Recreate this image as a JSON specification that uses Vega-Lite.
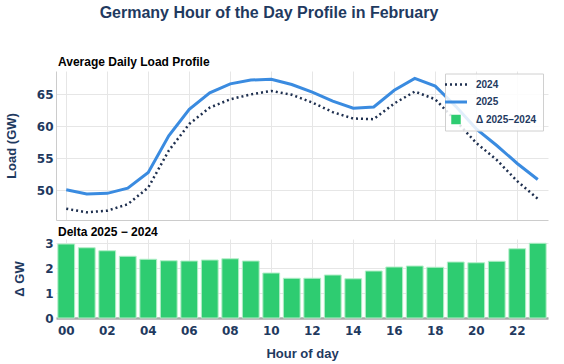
{
  "$schema": "https://vega.github.io/schema/vega-lite/v6.json",
  "background": "white",
  "padding": {"left": 5, "top": 5, "right": 5, "bottom": 2},
  "title": {
    "text": "Germany Hour of the Day Profile in February",
    "font": "Liberation Sans", "fontSize": 16, "fontWeight": "bold", "color": "#1f3a5f",
    "anchor": "middle", "offset": 35, "dx": -33
  },
  "config": {
    "view": {"stroke": null},
    "axis": {
      "labelFont": "DejaVu Sans", "labelFontWeight": "bold", "labelFontSize": 12, "labelColor": "#1f3a5f",
      "titleFont": "Liberation Sans", "titleFontWeight": "bold", "titleFontSize": 13, "titleColor": "#1f3a5f",
      "gridColor": "#e6e6e6", "gridWidth": 1, "ticks": false
    },
    "title": {"font": "Liberation Sans", "fontWeight": "bold", "fontSize": 12, "color": "#000000", "anchor": "start", "frame": "group", "dx": 2}
  },
  "data": {
    "values": [
      {"hour": "00", "y2024": 47.15, "y2025": 50.1, "delta": 2.96},
      {"hour": "01", "y2024": 46.6, "y2025": 49.45, "delta": 2.81},
      {"hour": "02", "y2024": 46.85, "y2025": 49.55, "delta": 2.69},
      {"hour": "03", "y2024": 47.85, "y2025": 50.35, "delta": 2.47},
      {"hour": "04", "y2024": 50.45, "y2025": 52.8, "delta": 2.35},
      {"hour": "05", "y2024": 56.2, "y2025": 58.5, "delta": 2.29},
      {"hour": "06", "y2024": 60.35, "y2025": 62.65, "delta": 2.28},
      {"hour": "07", "y2024": 62.9, "y2025": 65.2, "delta": 2.32},
      {"hour": "08", "y2024": 64.2, "y2025": 66.6, "delta": 2.37},
      {"hour": "09", "y2024": 64.95, "y2025": 67.2, "delta": 2.28},
      {"hour": "10", "y2024": 65.5, "y2025": 67.3, "delta": 1.8},
      {"hour": "11", "y2024": 64.9, "y2025": 66.5, "delta": 1.59},
      {"hour": "12", "y2024": 63.7, "y2025": 65.3, "delta": 1.59},
      {"hour": "13", "y2024": 62.2, "y2025": 63.9, "delta": 1.72},
      {"hour": "14", "y2024": 61.2, "y2025": 62.8, "delta": 1.57},
      {"hour": "15", "y2024": 61.1, "y2025": 63.0, "delta": 1.88},
      {"hour": "16", "y2024": 63.55, "y2025": 65.6, "delta": 2.04},
      {"hour": "17", "y2024": 65.4, "y2025": 67.45, "delta": 2.08},
      {"hour": "18", "y2024": 64.2, "y2025": 66.25, "delta": 2.03},
      {"hour": "19", "y2024": 60.85, "y2025": 63.1, "delta": 2.24},
      {"hour": "20", "y2024": 57.4, "y2025": 59.6, "delta": 2.21},
      {"hour": "21", "y2024": 54.75, "y2025": 57.0, "delta": 2.27},
      {"hour": "22", "y2024": 51.45, "y2025": 54.2, "delta": 2.77},
      {"hour": "23", "y2024": 48.7, "y2025": 51.7, "delta": 2.99}
    ]
  },
  "spacing": 6,
  "vconcat": [
    {
      "width": 492,
      "height": 149,
      "title": {"text": "Average Daily Load Profile", "offset": 2},
      "encoding": {
        "x": {
          "field": "hour", "type": "ordinal",
          "scale": {"type": "point", "padding": 0.5},
          "axis": {
            "title": null, "labels": false, "grid": true, "domainColor": "#cccccc", "domainWidth": 1,
            "values": ["00","02","04","06","08","10","12","14","16","18","20","22"]
          }
        }
      },
      "layer": [
        {
          "mark": {"type": "line", "strokeDash": [2, 3], "strokeWidth": 2.5},
          "encoding": {
            "y": {
              "field": "y2024", "type": "quantitative",
              "scale": {"domain": [45.4, 68.6], "nice": false, "zero": false},
              "axis": {"title": "Load (GW)", "values": [50, 55, 60, 65], "domainColor": "#cccccc", "labelPadding": 3, "titlePadding": 18}
            },
            "color": {
              "datum": "2024", "type": "nominal",
              "scale": {"domain": ["2024", "2025", "Δ 2025–2024"], "range": ["#1e2f4f", "#3a8be0", "#2ecc71"]},
              "legend": {
                "orient": "none", "legendX": 389, "legendY": 2.5, "title": null,
                "fillColor": "rgba(255,255,255,0.85)", "strokeColor": "#d0d0d0", "padding": 6,
                "labelFont": "Liberation Sans", "labelFontWeight": "bold", "labelFontSize": 10, "labelColor": "#1f3a5f",
                "symbolType": "stroke", "symbolSize": 484, "symbolStrokeWidth": 2.5, "labelOffset": 15, "rowPadding": 6.5,
                "encode": {
                  "symbols": {
                    "update": {
                      "shape": {"signal": "datum.value === 'Δ 2025–2024' ? 'square' : 'stroke'"},
                      "size": {"signal": "datum.value === 'Δ 2025–2024' ? 90 : 484"},
                      "strokeDash": {"signal": "datum.value === '2024' ? [2, 3] : [1, 0]"},
                      "fill": {"signal": "datum.value === 'Δ 2025–2024' ? '#2ecc71' : 'transparent'"},
                      "stroke": {"signal": "datum.value === '2024' ? '#1e2f4f' : (datum.value === '2025' ? '#3a8be0' : '#2ecc71')"},
                      "strokeWidth": {"signal": "datum.value === 'Δ 2025–2024' ? 0 : (datum.value === '2025' ? 3 : 2.5)"}
                    }
                  }
                }
              }
            }
          }
        },
        {
          "mark": {"type": "line", "strokeWidth": 3},
          "encoding": {
            "y": {"field": "y2025", "type": "quantitative"},
            "color": {"datum": "2025", "type": "nominal"}
          }
        }
      ]
    },
    {
      "width": 492,
      "height": 79,
      "title": {"text": "Delta 2025 − 2024", "offset": -2},
      "mark": {"type": "bar", "color": "#2ecc71", "stroke": "#b3eec8", "strokeWidth": 1},
      "encoding": {
        "x": {
          "field": "hour", "type": "ordinal",
          "scale": {"type": "band", "paddingInner": 0.18, "paddingOuter": 0.09},
          "axis": {
            "title": "Hour of day", "labelAngle": 0, "grid": true, "bandPosition": 0.5,
            "domainColor": "#aaaaaa", "domainWidth": 2.5, "labelPadding": 7.5, "titlePadding": 11,
            "values": ["00","02","04","06","08","10","12","14","16","18","20","22"]
          }
        },
        "y": {
          "field": "delta", "type": "quantitative",
          "scale": {"domain": [0, 3.16], "nice": false},
          "axis": {"title": "Δ GW", "values": [0, 1, 2, 3], "domain": false, "labelPadding": 3, "titlePadding": 18}
        }
      }
    }
  ]
}
